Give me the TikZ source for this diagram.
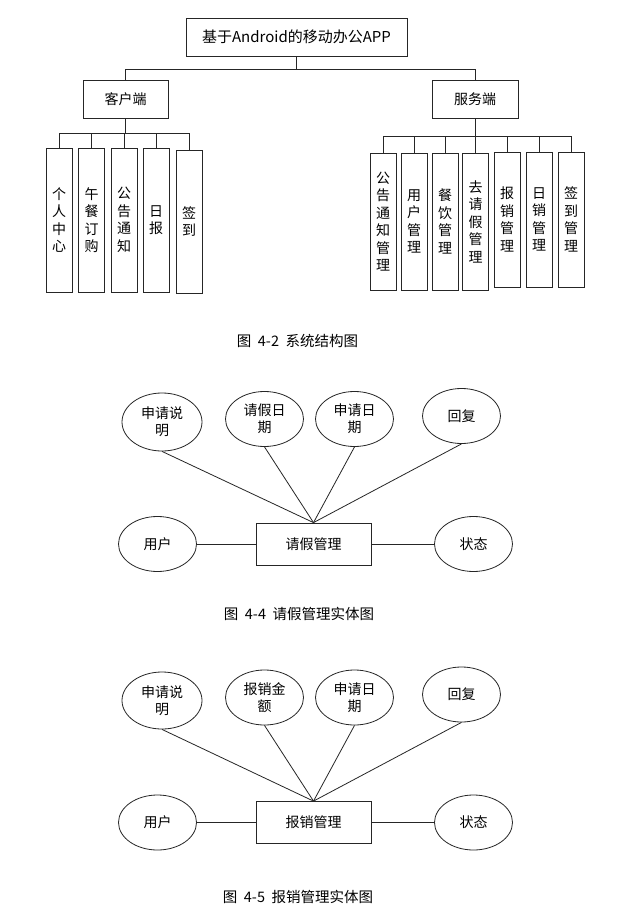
\documentclass[tikz,border=0pt]{standalone}
\usepackage{fontspec}
\setmainfont{Noto Sans CJK SC}
\usetikzlibrary{shapes.geometric}
\newcommand{\hsp}{\hspace{0.45em}}
\begin{document}
\begin{tikzpicture}[x=1pt,y=-1pt,line width=0.8pt,
  box/.style={draw=black!85, rectangle, inner sep=0pt, font=\fontsize{14}{17.5}\selectfont},
  vbox/.style={box, minimum width=26pt, align=center},
  ell/.style={draw=black!85, ellipse, inner sep=0pt, minimum width=78pt, minimum height=55pt, align=center, font=\fontsize{14}{17}\selectfont},
  captext/.style={font=\fontsize{14.5}{17}\selectfont},
  conn/.style={draw=black!85, line width=0.8pt}]
\useasboundingbox (0,0) rectangle (634,917);
\fill[white] (0,0) rectangle (634,917);

% ---------- system structure ----------
\node[box, minimum width=221pt, minimum height=38pt, font=\fontsize{15}{18}\selectfont] (root) at (296.5,37) {基于Android的移动办公APP};
\node[box, minimum width=85pt, minimum height=38pt] (client) at (125.5,99) {客户端};
\node[box, minimum width=86pt, minimum height=38pt] (server) at (475,99) {服务端};

\draw[conn] (root.south) -- ++(0,13) -| (client.north);
\draw[conn] (root.south) -- ++(0,13) -| (server.north);

\node[vbox, minimum height=144pt] (c1) at (59,220) {个\\人\\中\\心};
\node[vbox, minimum height=144pt] (c2) at (91.5,220) {午\\餐\\订\\购};
\node[vbox, minimum height=144pt] (c3) at (124,220) {公\\告\\通\\知};
\node[vbox, minimum height=144pt] (c4) at (156,220) {日\\报};
\node[vbox, minimum height=143pt] (c5) at (189,221.5) {签\\到};
\foreach \c in {c1,c2,c3,c4,c5}{
  \draw[conn] (client.south) -- ++(0,15) -| (\c.north);
}

\node[vbox, minimum height=137pt] (s1) at (383,221.5) {公\\告\\通\\知\\管\\理};
\node[vbox, minimum height=137pt] (s2) at (414,221.5) {用\\户\\管\\理};
\node[vbox, minimum height=137pt] (s3) at (445,221.5) {餐\\饮\\管\\理};
\node[vbox, minimum height=137pt] (s4) at (475.5,221.5) {去\\请\\假\\管\\理};
\node[vbox, minimum height=135pt] (s5) at (507,219.5) {报\\销\\管\\理};
\node[vbox, minimum height=135pt] (s6) at (539,219.5) {日\\销\\管\\理};
\node[vbox, minimum height=135pt] (s7) at (571,219.5) {签\\到\\管\\理};
\foreach \s in {s1,s2,s3,s4,s5,s6,s7}{
  \draw[conn] (server.south) -- ++(0,18) -| (\s.north);
}

\node[captext] (cap1) at (297.5,341) {图\hsp 4-2\hsp 系统结构图};

% ---------- leave management ER ----------
\node[box, minimum width=115pt, minimum height=42pt] (m1) at (313.5,544) {请假管理};
\node[ell, minimum width=80pt, minimum height=58pt] (a11) at (162,422) {申请说\\明};
\node[ell] (a12) at (264.5,419) {请假日\\期};
\node[ell] (a13) at (354.5,419) {申请日\\期};
\node[ell] (a14) at (461.5,416) {回复};
\node[ell] (u1) at (157.5,544) {用户};
\node[ell] (st1) at (473.5,544) {状态};
\foreach \a in {a11,a12,a13,a14}{
  \draw[conn] (\a.south) -- (m1.north);
}
\draw[conn] (u1.east) -- (m1.west);
\draw[conn] (m1.east) -- (st1.west);

\node[captext] (cap2) at (299,614) {图\hsp 4-4\hsp 请假管理实体图};

% ---------- reimbursement management ER ----------
\node[box, minimum width=115pt, minimum height=42pt] (m2) at (313.5,822.5) {报销管理};
\node[ell, minimum width=80pt, minimum height=57pt] (a21) at (162,700.5) {申请说\\明};
\node[ell] (a22) at (264.5,697.5) {报销金\\额};
\node[ell] (a23) at (354.5,697.5) {申请日\\期};
\node[ell] (a24) at (461.5,694.5) {回复};
\node[ell] (u2) at (157.5,822.5) {用户};
\node[ell] (st2) at (473.5,822.5) {状态};
\foreach \a in {a21,a22,a23,a24}{
  \draw[conn] (\a.south) -- (m2.north);
}
\draw[conn] (u2.east) -- (m2.west);
\draw[conn] (m2.east) -- (st2.west);

\node[captext] (cap3) at (298,897) {图\hsp 4-5\hsp 报销管理实体图};
\end{tikzpicture}
\end{document}
